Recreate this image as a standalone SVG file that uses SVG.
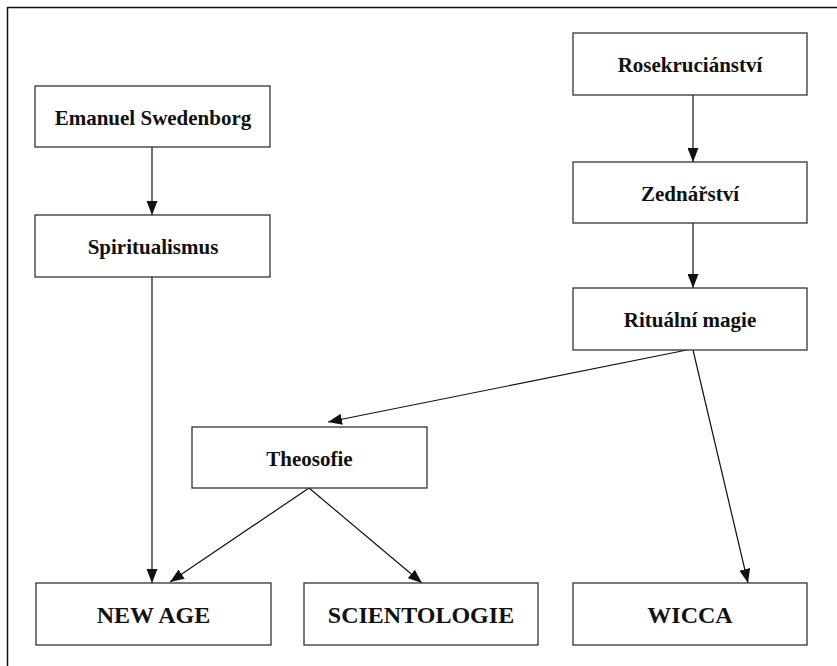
<svg xmlns="http://www.w3.org/2000/svg" width="837" height="666" viewBox="0 0 837 666">
<style>
.box{fill:#fff;stroke:#333;stroke-width:1.3}
.lbl{font-family:"Liberation Serif","Times New Roman",serif;font-weight:bold;font-size:21px;fill:#111;text-anchor:middle}
.big{font-size:24px}
.edge{stroke:#111;stroke-width:1.2;fill:none}
</style>
<defs>
<marker id="ah" viewBox="0 0 14 11" refX="14" refY="5.5" markerWidth="14" markerHeight="11" markerUnits="userSpaceOnUse" orient="auto">
<path d="M0,0 L14,5.5 L0,11 z" fill="#111"/>
</marker>
</defs>
<rect width="837" height="666" fill="#fff"/>
<path d="M7.5,666 V7.5 H837" stroke="#111" stroke-width="1.5" fill="none"/>
<g id="connectors">
<line class="edge" x1="152" y1="147" x2="152" y2="215" marker-end="url(#ah)"/>
<line class="edge" x1="693" y1="95" x2="693" y2="162" marker-end="url(#ah)"/>
<line class="edge" x1="693" y1="223" x2="693" y2="288" marker-end="url(#ah)"/>
<line class="edge" x1="687" y1="350" x2="328" y2="422" marker-end="url(#ah)"/>
<line class="edge" x1="693" y1="350" x2="748" y2="583" marker-end="url(#ah)"/>
<line class="edge" x1="152" y1="277" x2="152" y2="583" marker-end="url(#ah)"/>
<line class="edge" x1="309" y1="488" x2="170" y2="582" marker-end="url(#ah)"/>
<line class="edge" x1="309" y1="488" x2="422" y2="583" marker-end="url(#ah)"/>
</g>
<g id="swedenborg"><rect class="box" x="35" y="86" width="235" height="61"/><text class="lbl" x="153" y="125">Emanuel Swedenborg</text></g>
<g id="spiritualismus"><rect class="box" x="35" y="215" width="235" height="62"/><text class="lbl" x="153" y="254">Spiritualismus</text></g>
<g id="rosekrucianstvi"><rect class="box" x="573" y="33" width="234" height="62"/><text class="lbl" x="690" y="72">Rosekruciánství</text></g>
<g id="zednarstvi"><rect class="box" x="573" y="162" width="234" height="61"/><text class="lbl" x="690" y="201">Zednářství</text></g>
<g id="ritualni-magie"><rect class="box" x="573" y="288" width="234" height="62"/><text class="lbl" x="690" y="327">Rituální magie</text></g>
<g id="theosofie"><rect class="box" x="192" y="427" width="235" height="61"/><text class="lbl" x="309.5" y="466">Theosofie</text></g>
<g id="new-age"><rect class="box" x="36" y="583" width="235" height="62"/><text class="lbl big" x="153.5" y="623">NEW AGE</text></g>
<g id="scientologie"><rect class="box" x="304" y="583" width="234" height="62"/><text class="lbl big" x="421" y="623">SCIENTOLOGIE</text></g>
<g id="wicca"><rect class="box" x="573" y="583" width="234" height="62"/><text class="lbl big" x="690" y="623">WICCA</text></g>
</svg>
